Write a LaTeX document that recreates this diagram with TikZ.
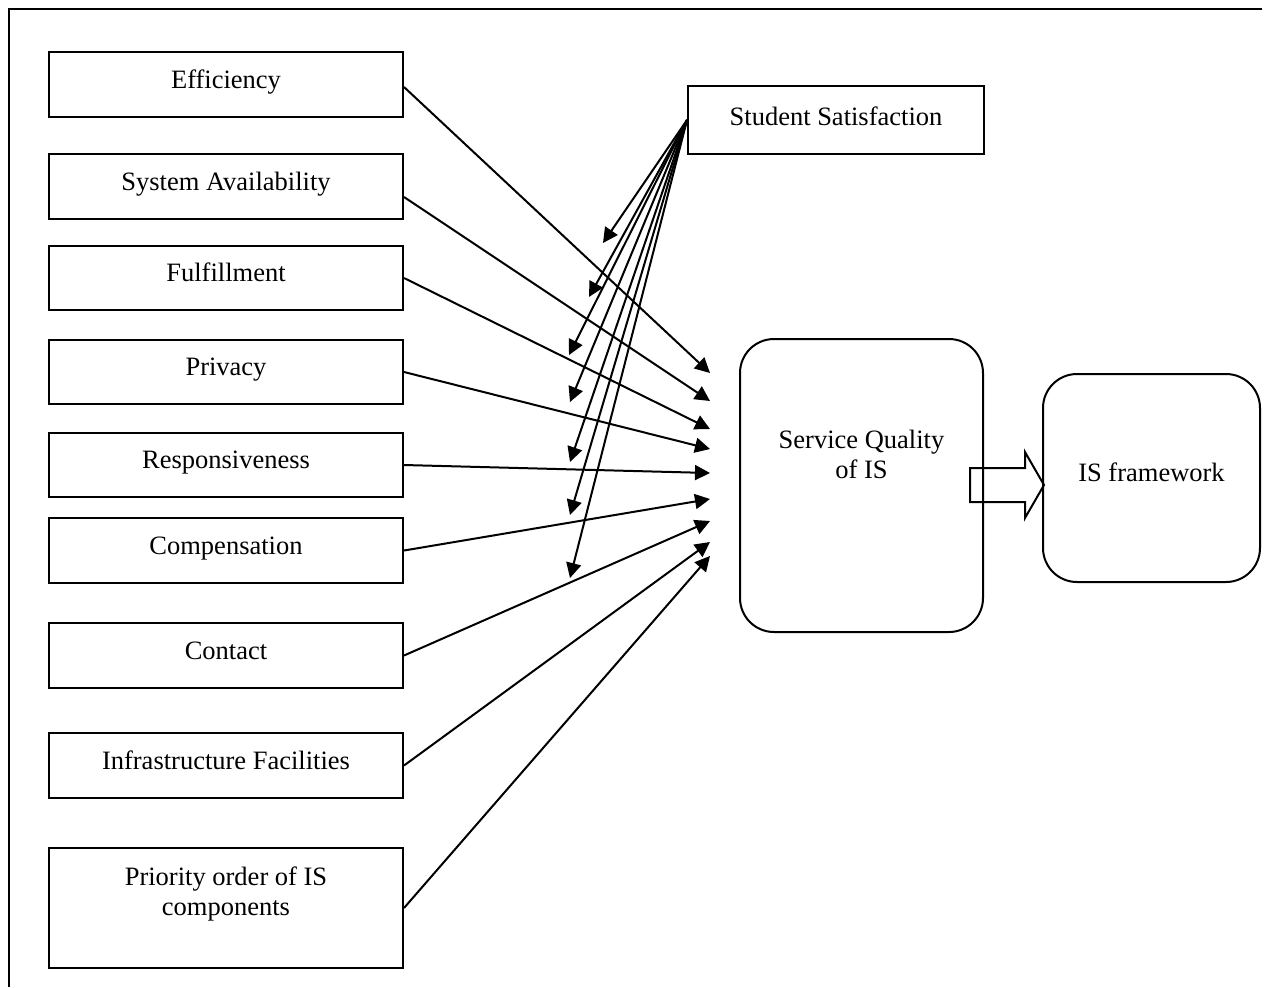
\documentclass[tikz,border=0pt]{standalone}
\usepackage{fontspec}
\setmainfont{Liberation Serif}
\usetikzlibrary{arrows.meta}
\begin{document}
\begin{tikzpicture}[x=0.5pt,y=-0.5pt,
  txt/.style={font=\fontsize{13.25}{15}\selectfont, align=center},
  box/.style={draw, line width=1pt, inner sep=0pt, minimum width=177pt, txt, text height=9.3pt, text depth=5.5pt},
  rbox/.style={draw, line width=1pt, inner sep=0pt, rounded corners=17pt},
  conn/.style={line width=1pt, -{Triangle[length=7.5pt,width=7.5pt]}},
  frame/.style={line width=1pt}
]
\useasboundingbox (0,0) rectangle (1270,987);
% outer frame (top and left edges)
\draw[frame] (1262,9) -- (9,9) -- (9,987);

% left factor boxes
\node[box, minimum height=32.5pt] (eff) at (226,84.5) {Efficiency};
\node[box, minimum height=32.5pt] (sys) at (226,186.5) {System Availability};
\node[box, minimum height=32pt] (ful) at (226,278) {Fulfillment};
\node[box, minimum height=32pt] (pri) at (226,372) {Privacy};
\node[box, minimum height=32pt] (res) at (226,465) {Responsiveness};
\node[box, minimum height=32.5pt] (com) at (226,550.5) {Compensation};
\node[box, minimum height=32.5pt] (con) at (226,655.5) {Contact};
\node[box, minimum height=32.5pt] (inf) at (226,765.5) {Infrastructure Facilities};
\node[box, minimum height=60pt, label={[txt, yshift=7.25pt]center:{Priority order of IS\\components}}] (prio) at (226,908) {};

% student satisfaction
\node[draw, line width=1pt, inner sep=0pt, minimum width=148pt, minimum height=34pt,
      label={[txt, yshift=2pt]center:Student Satisfaction}] (ss) at (836,120) {};

% service quality and framework
\node[rbox, minimum width=121.5pt, minimum height=146.5pt,
      label={[txt, yshift=15.5pt]center:{Service Quality\\of IS}}] (sq) at (861.5,485.5) {};
\node[rbox, minimum width=108.5pt, minimum height=104pt,
      label={[txt, yshift=3pt]center:IS framework}] (isf) at (1151.5,478) {};

% arrow tips at service quality
\coordinate (t1) at (710,373);
\coordinate (t2) at (710,401);
\coordinate (t3) at (710,429);
\coordinate (t4) at (710,449);
\coordinate (t5) at (710,473);
\coordinate (t6) at (710,499);
\coordinate (t7) at (710,521);
\coordinate (t8) at (710,542);
\coordinate (t9) at (710,556);

\draw[conn] ([yshift=-1.25pt]eff.east) -- (t1);
\draw[conn] ([yshift=-5.25pt]sys.east) -- (t2);
\draw[conn] (ful.east) -- (t3);
\draw[conn] (pri.east) -- (t4);
\draw[conn] (res.east) -- (t5);
\draw[conn] (com.east) -- (t6);
\draw[conn] (con.east) -- (t7);
\draw[conn] (inf.east) -- (t8);
\draw[conn] (prio.east) -- (t9);

% student satisfaction arrows
\coordinate (s1) at (603,243);
\coordinate (s2) at (589,297);
\coordinate (s3) at (569,355);
\coordinate (s4) at (570,402);
\coordinate (s5) at (570,462);
\coordinate (s6) at (570,515);
\coordinate (s7) at (570,578);
\foreach \s in {s1,s2,s3,s4,s5,s6,s7}
  \draw[conn] (ss.west) -- (\s);

% block arrow from service quality to framework
\draw[line width=1pt, line join=miter] (970,468) -- (1025,468) -- (1025,452) -- (1044,485)
  -- (1025,518) -- (1025,502) -- (970,502) -- cycle;
\end{tikzpicture}
\end{document}
